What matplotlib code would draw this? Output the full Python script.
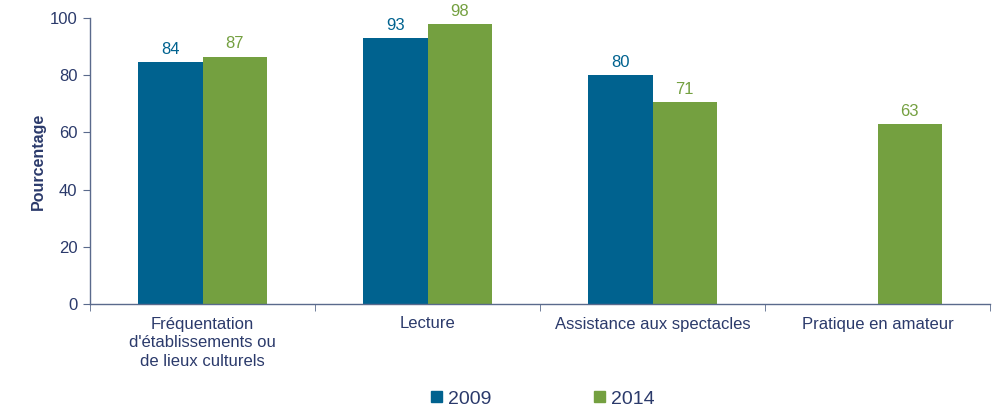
import matplotlib
matplotlib.use("Agg")
import matplotlib.pyplot as plt
import numpy as np
from matplotlib.patches import Patch

categories = ["Fréquentation\nd'établissements ou\nde lieux culturels", "Lecture",
              "Assistance aux spectacles", "Pratique en amateur"]
values_2009 = [84.5, 93, 80, np.nan]
values_2014 = [86.5, 98, 70.5, 63]
labels_2009 = ["84", "93", "80", ""]
labels_2014 = ["87", "98", "71", "63"]
series_names = ["2009", "2014"]

c09 = "#00628f"
c14 = "#74a040"
txt = "#2b3a6b"
spine = "#5a6a8c"

plt.rcParams['font.family'] = ['Liberation Sans', 'DejaVu Sans']

fig = plt.figure(figsize=(9.94, 4.09), dpi=100)
ax = fig.add_axes([90/994, 105/409, 900/994, 286/409])

x = np.arange(len(categories))
w = 0.285
ax.bar(x - w/2, values_2009, w, color=c09, linewidth=0)
ax.bar(x + w/2, values_2014, w, color=c14, linewidth=0)

for i in range(len(categories)):
    if labels_2009[i]:
        ax.text(x[i] - w/2, values_2009[i] + 1.8, labels_2009[i], ha='center', va='bottom',
                color=c09, fontsize=12)
    if labels_2014[i]:
        ax.text(x[i] + w/2, values_2014[i] + 1.8, labels_2014[i], ha='center', va='bottom',
                color=c14, fontsize=12)

ax.set_xlim(-0.5, len(categories) - 0.5)
ax.set_ylim(0, 100)
ax.set_yticks(range(0, 101, 20))
ax.set_xticks(x)
ax.set_xticklabels(categories, fontsize=12, color=txt, linespacing=1.3)
ax.tick_params(axis='x', length=0, pad=9)
ax.set_xticks(np.arange(-0.5, len(categories), 1), minor=True)
ax.tick_params(axis='x', which='minor', length=5, color=spine, direction='out')
ax.tick_params(axis='y', length=5, color=spine, labelsize=12, labelcolor=txt, pad=4)

for s in ['top', 'right']:
    ax.spines[s].set_visible(False)
for s in ['left', 'bottom']:
    ax.spines[s].set_color(spine)
    ax.spines[s].set_linewidth(1)

ax.set_ylabel("Pourcentage", fontsize=11.5, fontweight='bold', color=txt, labelpad=3)

handles = [Patch(color=c09), Patch(color=c14)]
fig.legend(handles, series_names, loc='center', bbox_to_anchor=(543/994, 1 - 399/409),
           ncol=2, frameon=False, fontsize=14, labelcolor=txt, handlelength=0.55,
           handleheight=0.55, handletextpad=0.3, columnspacing=5.3)

fig.savefig("out.png", dpi=100)
